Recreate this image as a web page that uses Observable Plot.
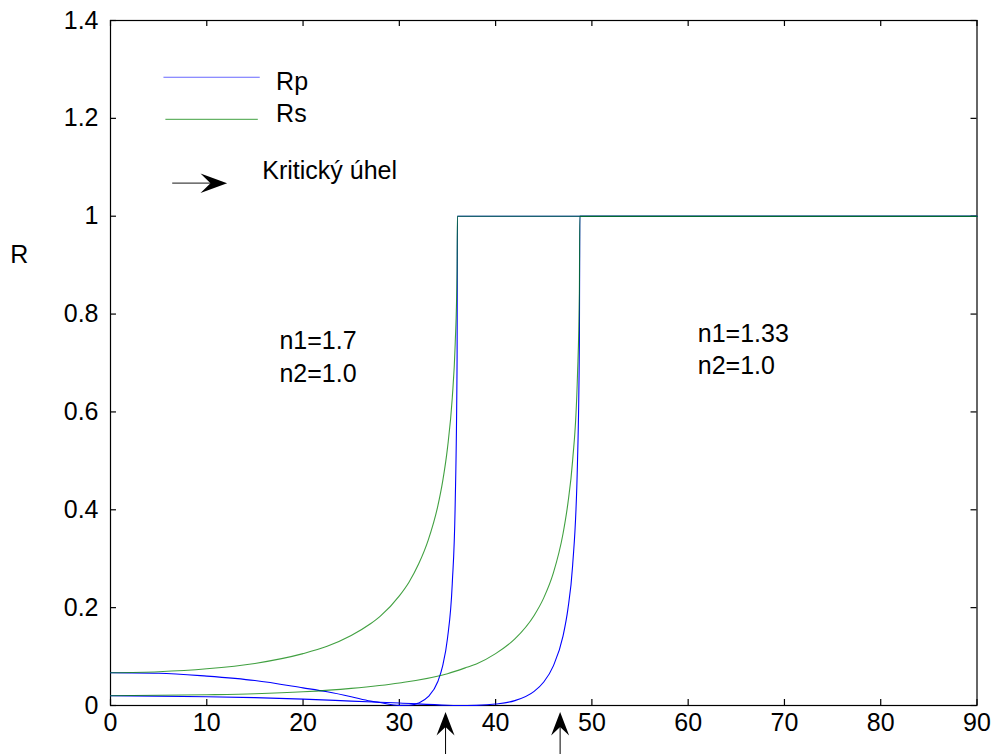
<!DOCTYPE html>
<html>
<head>
<meta charset="utf-8">
<script src="https://cdn.jsdelivr.net/npm/d3@7"></script>
<script src="https://cdn.jsdelivr.net/npm/@observablehq/plot@0.6"></script>
<style>
  html, body { margin: 0; padding: 0; background: #fff; }
</style>
</head>
<body>
<div id="chart"></div>
<script>
// ---- Data ----
// n1 = 1.7, n2 = 1.0
const angle17 = [0, 5, 10, 15, 20, 22.5, 25, 27, 28, 30, 31, 32, 33, 34, 34.5, 35, 35.5, 35.8, 36, 36.03, 90];
const rp17    = [0.067, 0.066, 0.060, 0.051, 0.036, 0.028, 0.018, 0.009, 0.006, 0.0003, 0.0005, 0.005, 0.018, 0.049, 0.081, 0.137, 0.250, 0.410, 0.714, 1, 1];
const rs17    = [0.067, 0.069, 0.075, 0.086, 0.106, 0.121, 0.143, 0.167, 0.182, 0.224, 0.252, 0.289, 0.338, 0.408, 0.458, 0.526, 0.629, 0.738, 0.890, 1, 1];
// n1 = 1.33, n2 = 1.0
const angle133 = [0, 10, 15, 20, 25, 30, 35, 37, 38, 40, 42, 44, 45, 46, 47, 47.5, 48, 48.5, 48.7, 48.75, 90];
const rp133    = [0.020, 0.018, 0.016, 0.013, 0.009, 0.005, 0.0006, 0, 0.0003, 0.003, 0.010, 0.029, 0.048, 0.081, 0.142, 0.196, 0.286, 0.494, 0.740, 1, 1];
const rs133    = [0.020, 0.022, 0.024, 0.028, 0.035, 0.046, 0.065, 0.078, 0.085, 0.106, 0.136, 0.184, 0.220, 0.271, 0.351, 0.412, 0.501, 0.673, 0.843, 1, 1];

const xTicks = [0, 10, 20, 30, 40, 50, 60, 70, 80, 90];
const xTickLabels = ["0", "10", "20", "30", "40", "50", "60", "70", "80", "90"];
const yTicks = [0, 0.2, 0.4, 0.6, 0.8, 1, 1.2, 1.4];
const yTickLabels = ["0", "0.2", "0.4", "0.6", "0.8", "1", "1.2", "1.4"];

const seriesNames = ["Rp", "Rs"];
const criticalLabel = "Kritický úhel";
const mediumLabels = ["n1=1.7\nn2=1.0", "n1=1.33\nn2=1.0"];
const yLabel = "R";
const arrowAngles = [34.8, 46.7]; // arrows under the x axis

// ---- Build rows ----
function rows(angles, values, group) {
  return angles.map((a, i) => ({angle: a, R: values[i], group}));
}
const rpRows = [...rows(angle17, rp17, "n1=1.7"), ...rows(angle133, rp133, "n1=1.33")];
const rsRows = [...rows(angle17, rs17, "n1=1.7"), ...rows(angle133, rs133, "n1=1.33")];

const BLUE = "#0000ff";
const GREEN = "#008000";
const FONT = "'Liberation Sans', Arial, Helvetica, sans-serif";

const headRight = {draw(ctx) { ctx.moveTo(13.3, 0); ctx.lineTo(-13.3, -9.7); ctx.lineTo(-3.3, 0); ctx.lineTo(-13.3, 9.7); ctx.closePath(); }};
const headUp = {draw(ctx) { ctx.moveTo(0, -11.7); ctx.lineTo(-9, 11.7); ctx.lineTo(0, 3.3); ctx.lineTo(9, 11.7); ctx.closePath(); }};

// inward tick length in data units (about 6px)
const TX = 0.62, TY = 0.0123;

const chart = Plot.plot({
  width: 993,
  height: 754,
  marginLeft: 110,
  marginRight: 16.5,
  marginTop: 20,
  marginBottom: 49,
  style: {fontFamily: FONT, fontSize: "25px", color: "#000", background: "#fff", overflow: "visible"},
  x: {domain: [0, 90]},
  y: {domain: [0, 1.4]},
  marks: [
    // tick labels
    Plot.axisX(xTicks, {anchor: "bottom", tickSize: 0, tickPadding: 8, tickFormat: (d, i) => xTickLabels[i], fontSize: 25, label: null}),
    Plot.axisY(yTicks, {anchor: "left", tickSize: 0, tickPadding: 12, tickFormat: (d, i) => yTickLabels[i], fontSize: 25, label: null}),
    // inward ticks on all four sides
    Plot.ruleX(xTicks, {x: d => d, y1: 0, y2: TY, stroke: "#000", strokeWidth: 1.2}),
    Plot.ruleX(xTicks, {x: d => d, y1: 1.4, y2: 1.4 - TY, stroke: "#000", strokeWidth: 1.2}),
    Plot.ruleY(yTicks, {y: d => d, x1: 0, x2: TX, stroke: "#000", strokeWidth: 1.2}),
    Plot.ruleY(yTicks, {y: d => d, x1: 90, x2: 90 - TX, stroke: "#000", strokeWidth: 1.2}),
    Plot.frame({stroke: "#000", strokeWidth: 1.2}),
    // curves
    Plot.line(rpRows, {x: "angle", y: "R", z: "group", stroke: BLUE, strokeWidth: 1.1, curve: "monotone-x"}),
    Plot.line(rsRows, {x: "angle", y: "R", z: "group", stroke: GREEN, strokeWidth: 1.1, strokeOpacity: 0.75, curve: "monotone-x"}),
    // legend
    Plot.link([seriesNames[0]], {x1: 5.5, x2: 15.5, y1: 1.284, y2: 1.284, stroke: BLUE, strokeOpacity: 0.6, strokeWidth: 1.2}),
    Plot.link([seriesNames[1]], {x1: 5.7, x2: 15.3, y1: 1.198, y2: 1.198, stroke: GREEN, strokeOpacity: 0.6, strokeWidth: 1.2}),
    Plot.text([seriesNames[0]], {x: 17.2, y: 1.257, text: d => d, textAnchor: "start", lineAnchor: "bottom", fontSize: 25, fill: "#000"}),
    Plot.text([seriesNames[1]], {x: 17.2, y: 1.1925, text: d => d, textAnchor: "start", lineAnchor: "bottom", fontSize: 25, fill: "#000"}),
    // critical angle legend arrow
    Plot.link([criticalLabel], {x1: 6.41, x2: 11.0, y1: 1.0675, y2: 1.0675, stroke: "#444", strokeWidth: 1.2}),
    Plot.dot([criticalLabel], {x: 10.73, y: 1.0675, symbol: headRight, fill: "#000", stroke: "none"}),
    Plot.text([criticalLabel], {x: 15.76, y: 1.077, text: d => d, textAnchor: "start", lineAnchor: "bottom", fontSize: 25, fill: "#000"}),
    // medium labels
    Plot.text([mediumLabels[0]], {x: 17.55, y: 0.662, text: d => d, textAnchor: "start", lineAnchor: "bottom", lineHeight: 1.3, fontSize: 25, fill: "#000"}),
    Plot.text([mediumLabels[1]], {x: 61.0, y: 0.677, text: d => d, textAnchor: "start", lineAnchor: "bottom", lineHeight: 1.3, fontSize: 25, fill: "#000"}),
    // y label
    Plot.text([yLabel], {x: -10.4, y: 0.92, text: d => d, textAnchor: "start", fontSize: 25, fill: "#000"}),
    // arrows under the x axis
    Plot.link(arrowAngles, {x1: d => d, x2: d => d, y1: -0.043, y2: -0.102, stroke: "#000", strokeWidth: 1}),
    Plot.dot(arrowAngles, {x: d => d, y: -0.0374, symbol: headUp, fill: "#000", stroke: "none"})
  ]
});

document.getElementById("chart").appendChild(chart);
</script>
</body>
</html>
